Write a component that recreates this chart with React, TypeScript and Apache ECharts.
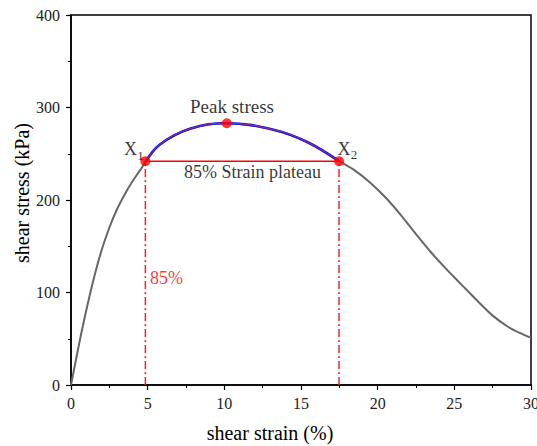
import React, { useEffect, useRef } from "react";
import * as echarts from "echarts";

const strain = [0, 0.5, 1, 1.5, 2, 2.5, 3, 3.5, 4, 4.5, 4.85, 5.8, 7.76, 10.16, 13.2, 15.37, 17.48, 18.5, 19.5, 20.5, 21.5, 22.5, 23.5, 24.5, 25.5, 26.5, 27.5, 28.5, 29.3, 30];
const stress = [0, 42, 81, 116, 146, 170, 190, 206, 220, 232, 241, 260, 277, 283, 276, 263, 242, 232, 219, 203, 184, 163, 143, 125, 108, 91, 75, 63, 56, 51];

const fitStrain = [4.85, 5.8, 7.76, 10.16, 13.2, 15.37, 17.48];
const fitStress = [241, 260, 277, 283, 276, 263, 242];

const x1 = 4.85;
const x2 = 17.48;
const plateauStress = 242;
const peakStrain = 10.16;
const peakStress = 283;

const xTitle = "shear strain (%)";
const yTitle = "shear stress (kPa)";

const FONT = "Liberation Serif, Times New Roman, serif";

export default function App() {
  const ref = useRef<HTMLDivElement>(null);
  useEffect(() => {
    document.body.style.margin = "0";
    const chart = echarts.init(ref.current!, null, { renderer: "svg" });
    const txt = (x: number, y: number, text: string, color = "#000", size = 18) => ({
      value: [x, y],
      label: {
        show: true,
        position: "inside",
        formatter: text,
        color,
        fontSize: size,
        fontFamily: FONT,
      },
    });
    chart.setOption({
      animation: false,
      textStyle: { fontFamily: FONT },
      grid: {
        left: 71,
        right: 6,
        top: 15,
        bottom: 61,
        outerBoundsMode: "none",
        containLabel: false,
        show: true,
        borderColor: "#000",
        borderWidth: 1.5,
        backgroundColor: "transparent",
      },
      graphic: [
        {
          type: "text",
          x: 270,
          y: 433,
          style: { text: xTitle, font: `20px ${FONT}`, fill: "#000", align: "center", verticalAlign: "middle" },
        },
        {
          type: "text",
          x: 22,
          y: 193,
          rotation: Math.PI / 2,
          style: { text: yTitle, font: `20px ${FONT}`, fill: "#000", align: "center", verticalAlign: "middle" },
        },
      ],
      xAxis: {
        type: "value",
        min: 0,
        max: 30,
        interval: 5,
        axisLine: { show: true, onZero: false, lineStyle: { color: "#000", width: 1.5 } },
        axisTick: { show: true, inside: false, length: 5, lineStyle: { color: "#000", width: 1.2 } },
        minorTick: { show: true, splitNumber: 2, length: 3, lineStyle: { color: "#000", width: 1 } },
        axisLabel: { fontFamily: FONT, fontSize: 16, color: "#222", margin: 10, hideOverlap: false },
        splitLine: { show: false },
      },
      yAxis: {
        type: "value",
        min: 0,
        max: 400,
        interval: 100,
        axisLine: { show: true, onZero: false, lineStyle: { color: "#000", width: 1.5 } },
        axisTick: { show: true, inside: false, length: 5, lineStyle: { color: "#000", width: 1.2 } },
        minorTick: { show: true, splitNumber: 2, length: 3, lineStyle: { color: "#000", width: 1 } },
        axisLabel: { fontFamily: FONT, fontSize: 16, color: "#222", margin: 11 },
        splitLine: { show: false },
      },
      series: [
        {
          type: "line",
          data: strain.map((x, i) => [x, stress[i]]),
          smooth: 0.3,
          symbol: "none",
          lineStyle: { color: "#666", width: 2 },
          z: 2,
        },
        {
          type: "line",
          data: fitStrain.map((x, i) => [x, fitStress[i]]),
          smooth: 0.4,
          symbol: "none",
          lineStyle: { color: "#1a1adc", width: 2.6 },
          z: 3,
        },
        {
          type: "line",
          data: fitStrain.map((x, i) => [x, fitStress[i]]),
          smooth: 0.4,
          symbol: "none",
          lineStyle: { color: "#e0306a", width: 0.7 },
          z: 4,
        },
        {
          type: "line",
          data: [[x1, 0], [x1, plateauStress]],
          symbol: "none",
          lineStyle: { color: "#ff2020", width: 1.5, type: [8, 3, 2, 3] },
          z: 3,
        },
        {
          type: "line",
          data: [[x2, 0], [x2, plateauStress]],
          symbol: "none",
          lineStyle: { color: "#ff2020", width: 1.5, type: [8, 3, 2, 3] },
          z: 3,
        },
        {
          type: "line",
          data: [[x1, plateauStress], [x2, plateauStress]],
          symbol: "none",
          lineStyle: { color: "#ff0000", width: 1.5 },
          z: 3,
        },
        {
          type: "scatter",
          data: [[x1, plateauStress], [peakStrain, peakStress], [x2, plateauStress]],
          symbol: "circle",
          symbolSize: 10,
          itemStyle: { color: "#ff0000" },
          z: 5,
        },
        {
          type: "scatter",
          symbolSize: 1,
          itemStyle: { color: "transparent" },
          z: 6,
          data: [
            txt(10.5, 301.6, "Peak stress", "#000", 19),
            txt(11.84, 230, "85% Strain plateau", "#000", 18),
            txt(3.88, 255, "X", "#000", 18),
            txt(4.53, 247.6, "1", "#000", 13),
            txt(17.81, 255, "X", "#000", 18),
            txt(18.46, 249, "2", "#000", 13),
            txt(6.23, 115.7, "85%", "#ff0000", 18),
          ],
        },
      ],
    });
    return () => chart.dispose();
  }, []);
  return <div ref={ref} style={{ width: 537, height: 446, background: "#fff" }} />;
}
